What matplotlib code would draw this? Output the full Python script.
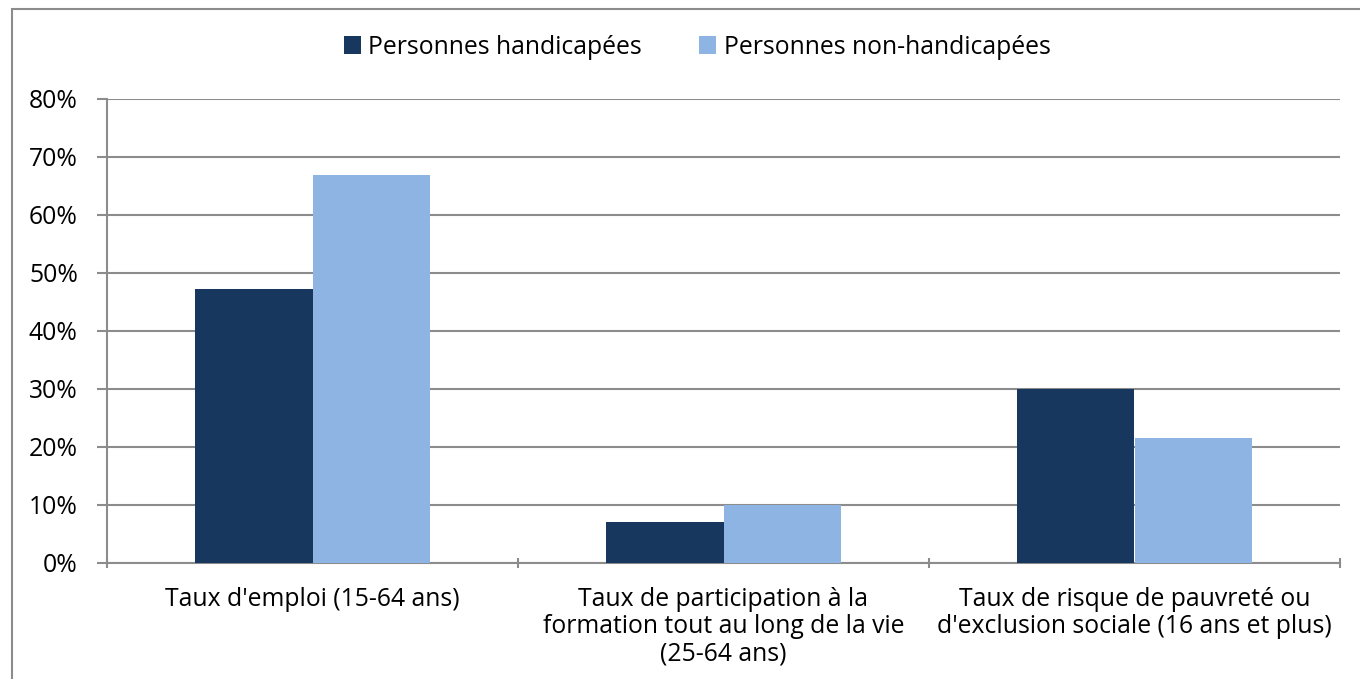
import matplotlib.pyplot as plt
import matplotlib.patches as patches
import numpy as np

# data
categories = ["Taux d'emploi (15-64 ans)",
              "Taux de participation à la\nformation tout au long de la vie\n(25-64 ans)",
              "Taux de risque de pauvreté ou\nd'exclusion sociale (16 ans et plus)"]
handicapees = [47.2, 7.0, 30.0]
non_handicapees = [66.9, 10.0, 21.5]
yticks = [0, 10, 20, 30, 40, 50, 60, 70, 80]

plt.rcParams['font.family'] = ['Open Sans', 'DejaVu Sans']
grey = '#8c8c8c'
fs = 17.8

fig = plt.figure(figsize=(13.6, 6.79), dpi=100)
ax = fig.add_axes([107 / 1360, 1 - 563 / 679, (1340 - 107) / 1360, (563 - 99) / 679])

x = np.arange(len(categories))
w = 0.285
ax.bar(x - w / 2, handicapees, w, color='#17375E', label='Personnes handicapées', zorder=3)
ax.bar(x + w / 2, non_handicapees, w, color='#8EB4E3', label='Personnes non-handicapées', zorder=3)

ax.set_ylim(0, 80)
ax.set_xlim(-0.5, 2.5)
ax.set_yticks(yticks)
ax.set_yticklabels([f'{v}%' for v in yticks], fontsize=fs)
ax.yaxis.grid(True, color=grey, linewidth=1.5, zorder=0)

# category boundaries as tick marks, labels centered on groups
ax.set_xticks([-0.5, 0.5, 1.5, 2.5])
ax.set_xticklabels([])
ax.set_xticks(x, minor=True)
ax.set_xticklabels(categories, minor=True, fontsize=fs, linespacing=1.12)
ax.tick_params(axis='x', which='minor', length=0, pad=17)
ax.tick_params(axis='x', which='major', length=7, width=1.5, color=grey, direction='inout')
ax.tick_params(axis='y', length=7, width=1.5, color=grey, pad=14)

for s in ['top', 'right']:
    ax.spines[s].set_visible(False)
for s in ['left', 'bottom']:
    ax.spines[s].set_color(grey)
    ax.spines[s].set_linewidth(1.5)

fig.legend(loc='center', bbox_to_anchor=(697 / 1360, 1 - 47 / 679), ncol=2, frameon=False,
           fontsize=fs, handlelength=0.7, handleheight=0.7, columnspacing=2.3, handletextpad=0.3)

# outer chart border
border = patches.Rectangle((12 / 1360, -0.05), 1.1, 1 - 9 / 679 + 0.05, transform=fig.transFigure,
                           fill=False, edgecolor=grey, linewidth=1.5, clip_on=False)
fig.patches.append(border)

fig.savefig('out.png', dpi=100)
